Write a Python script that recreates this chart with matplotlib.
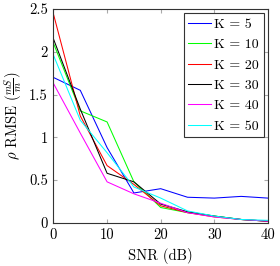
import matplotlib
matplotlib.use("Agg")
import matplotlib.pyplot as plt

snr = [0, 5, 10, 15, 20, 25, 30, 35, 40]
k5 = [1.70, 1.55, 0.88, 0.35, 0.40, 0.30, 0.29, 0.31, 0.29]
k10 = [2.10, 1.31, 1.18, 0.48, 0.18, 0.12, 0.08, 0.04, 0.02]
k20 = [2.44, 1.25, 0.67, 0.45, 0.20, 0.12, 0.07, 0.04, 0.02]
k30 = [2.15, 1.33, 0.58, 0.48, 0.22, 0.13, 0.08, 0.04, 0.02]
k40 = [1.63, 1.05, 0.48, 0.34, 0.23, 0.12, 0.07, 0.04, 0.02]
k50 = [1.96, 1.20, 0.82, 0.42, 0.29, 0.14, 0.08, 0.04, 0.03]
labels = ["K = 5", "K = 10", "K = 20", "K = 30", "K = 40", "K = 50"]
xticks = [0, 10, 20, 30, 40]
yticks = [0, 0.5, 1, 1.5, 2, 2.5]

plt.rcParams['font.family'] = 'serif'
plt.rcParams['font.serif'] = ['cmr10']
plt.rcParams['mathtext.fontset'] = 'cm'
plt.rcParams['axes.formatter.use_mathtext'] = True

fig = plt.figure(figsize=(2.8, 2.66), dpi=100)
ax = fig.add_axes([0.191, 0.162, 0.766, 0.804])
colors = ['#0000ff', '#00ff00', '#ff0000', '#000000', '#ff00ff', '#00ffff']
for ys, c, l in zip([k5, k10, k20, k30, k40, k50], colors, labels):
    ax.plot(snr, ys, color=c, lw=0.75, label=l)

ax.set_xlim(0, 40)
ax.set_ylim(0, 2.5)
ax.set_xticks(xticks)
ax.set_yticks(yticks)
ax.set_xticklabels([str(v) for v in xticks])
ax.set_yticklabels(['0', '0.5', '1', '1.5', '2', '2.5'])
ax.tick_params(direction='in', top=True, right=True, length=3, color='#aaaaaa',
               labelsize=10.5, pad=4)
for s in ax.spines.values():
    s.set_linewidth(0.8)
    s.set_color('#333333')
ax.set_xlabel('SNR (dB)', fontsize=10.5, labelpad=4)
ax.set_ylabel(r'$\rho$ RMSE ($\frac{mS}{m}$)', fontsize=10.5, labelpad=3)
leg = ax.legend(loc='upper right', fontsize=10, fancybox=False, framealpha=1,
                edgecolor='#333333', handlelength=1.6, handletextpad=0.25,
                labelspacing=0.55, borderpad=0.35, borderaxespad=0.3)
leg.get_frame().set_linewidth(0.8)
fig.savefig('out.png', dpi=100)
